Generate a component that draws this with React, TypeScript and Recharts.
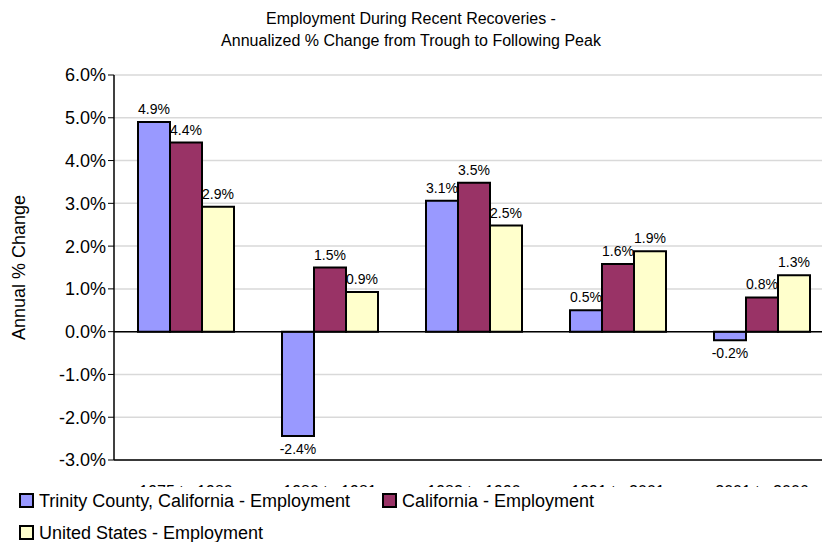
import React from 'react';
import { BarChart, Bar, XAxis, YAxis, CartesianGrid, ReferenceLine, LabelList } from 'recharts';

const periods = ['1975 to 1980', '1980 to 1981', '1982 to 1990', '1991 to 2001', '2001 to 2006'];
const trinity = [4.9, -2.44, 3.06, 0.5, -0.2];
const california = [4.42, 1.5, 3.48, 1.58, 0.8];
const unitedStates = [2.92, 0.93, 2.48, 1.88, 1.32];
const yTicks = [-3, -2, -1, 0, 1, 2, 3, 4, 5, 6];

const data = periods.map((p, i) => ({
  period: p,
  trinity: trinity[i],
  california: california[i],
  us: unitedStates[i],
}));

const font = 'Arial, "Liberation Sans", sans-serif';
const narrow = '"Liberation Sans Narrow", "Liberation Sans", Arial, sans-serif';

const ValueLabel = (props: any) => {
  const { x, y, width, height, value } = props;
  const top = Math.min(y, y + height);
  const bottom = Math.max(y, y + height);
  const ty = value < 0 ? bottom + 18 : top - 8;
  return (
    <text x={x + width / 2} y={ty} textAnchor="middle" fontSize={14} fontFamily={narrow} fill="#000">
      {value.toFixed(1)}%
    </text>
  );
};

const PeriodTick = (props: any) => {
  const { x, y, payload } = props;
  return (
    <text x={x} y={y + 29} textAnchor="middle" fontSize={16} fontFamily={font} fill="#000">
      {payload.value}
    </text>
  );
};

const series = [
  { key: 'trinity', name: 'Trinity County, California - Employment', color: '#9999FF' },
  { key: 'california', name: 'California - Employment', color: '#993366' },
  { key: 'us', name: 'United States - Employment', color: '#FFFFCC' },
];

function Swatch({ color }: { color: string }) {
  return (
    <span style={{ display: 'inline-block', width: 11, height: 11, background: color, border: '2px solid #000', marginRight: 5, verticalAlign: -1 }} />
  );
}

export default function App() {
  return (
    <div style={{ position: 'absolute', left: 0, top: 0, width: 822, height: 542, overflow: 'hidden', background: '#fff', fontFamily: font }}>
      <div style={{ position: 'absolute', top: 8, width: 822, textAlign: 'center', fontSize: 16, lineHeight: '22px' }}>
        Employment During Recent Recoveries -<br />Annualized % Change from Trough to Following Peak
      </div>
      <div style={{ position: 'absolute', left: 0, top: 0 }}>
        <BarChart width={840} height={542} data={data} margin={{ top: 75, right: 6, bottom: 52, left: 0 }} barCategoryGap={24} barGap={0}>
          <CartesianGrid vertical={false} stroke="#d9d9d9" strokeWidth={1.5} />
          <XAxis dataKey="period" height={30} tick={<PeriodTick />} tickLine={false} axisLine={{ stroke: '#000', strokeWidth: 1.5 }} />
          <YAxis
            width={114}
            domain={[-3, 6]}
            ticks={yTicks}
            interval={0}
            tickFormatter={(v: number) => `${v.toFixed(1)}%`}
            tick={{ fontSize: 18, fill: '#000', fontFamily: font }}
            tickLine={{ stroke: '#000' }}
            tickSize={6}
            axisLine={{ stroke: '#000', strokeWidth: 1.5 }}
            label={{ value: 'Annual % Change', angle: -90, position: 'insideLeft', dx: 14, style: { fontSize: 18, fill: '#000', fontFamily: font, textAnchor: 'middle' } }}
          />
          <ReferenceLine y={0} stroke="#000" strokeWidth={1.5} />
          {series.map((s) => (
            <Bar key={s.key} dataKey={s.key} name={s.name} fill={s.color} stroke="#000" strokeWidth={2} isAnimationActive={false}>
              <LabelList dataKey={s.key} content={<ValueLabel />} />
            </Bar>
          ))}
        </BarChart>
      </div>
      <div style={{ position: 'absolute', left: 0, top: 487, width: 822, height: 55, background: '#fff', fontSize: 18, lineHeight: '33px' }}>
        <div style={{ position: 'absolute', left: 19, top: -2, whiteSpace: 'nowrap' }}><Swatch color={series[0].color} />{series[0].name}</div>
        <div style={{ position: 'absolute', left: 382, top: -2, whiteSpace: 'nowrap' }}><Swatch color={series[1].color} />{series[1].name}</div>
        <div style={{ position: 'absolute', left: 19, top: 30, whiteSpace: 'nowrap' }}><Swatch color={series[2].color} />{series[2].name}</div>
      </div>
    </div>
  );
}
